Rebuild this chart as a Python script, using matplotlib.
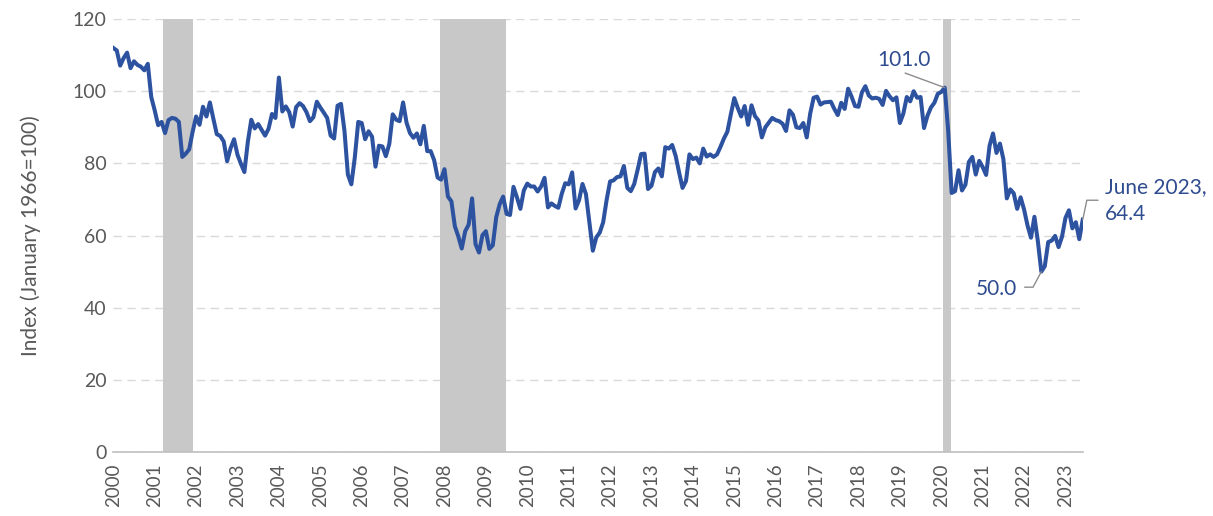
import numpy as np
import matplotlib.pyplot as plt

# monthly index values, Jan 2000 - Jun 2023
v2000 = [112.0, 111.3, 107.1, 109.2, 110.7, 106.4, 108.3, 107.3, 106.8, 105.8, 107.6, 98.4]
v2001 = [94.7, 90.6, 91.5, 88.4, 92.0, 92.6, 92.4, 91.5, 81.8, 82.7, 83.9, 88.8]
v2002 = [93.0, 90.7, 95.7, 93.0, 96.9, 92.4, 88.1, 87.6, 86.1, 80.6, 84.2, 86.7]
v2003 = [82.4, 79.9, 77.6, 86.0, 92.1, 89.7, 90.9, 89.3, 87.7, 89.6, 93.7, 92.6]
v2004 = [103.8, 94.4, 95.8, 94.2, 90.2, 95.6, 96.7, 95.9, 94.2, 91.7, 92.8, 97.1]
v2005 = [95.5, 94.1, 92.6, 87.7, 86.9, 96.0, 96.5, 89.1, 76.9, 74.2, 81.6, 91.5]
v2006 = [91.2, 86.7, 88.9, 87.4, 79.1, 84.9, 84.7, 82.0, 85.4, 93.6, 92.1, 91.7]
v2007 = [96.9, 91.3, 88.4, 87.1, 88.3, 85.3, 90.4, 83.4, 83.4, 80.9, 76.1, 75.5]
v2008 = [78.4, 70.8, 69.5, 62.6, 59.8, 56.4, 61.2, 63.0, 70.3, 57.6, 55.3, 60.1]
v2009 = [61.2, 56.3, 57.3, 65.1, 68.7, 70.8, 66.0, 65.7, 73.5, 70.6, 67.4, 72.5]
v2010 = [74.4, 73.6, 73.6, 72.2, 73.6, 76.0, 67.8, 68.9, 68.2, 67.7, 71.6, 74.5]
v2011 = [74.2, 77.5, 67.5, 69.8, 74.3, 71.5, 63.7, 55.8, 59.5, 60.8, 63.7, 69.9]
v2012 = [75.0, 75.3, 76.2, 76.4, 79.3, 73.2, 72.3, 74.3, 78.3, 82.6, 82.7, 72.9]
v2013 = [73.8, 77.6, 78.6, 76.4, 84.5, 84.1, 85.1, 82.1, 77.5, 73.2, 75.1, 82.5]
v2014 = [81.2, 81.6, 80.0, 84.1, 81.9, 82.5, 81.8, 82.5, 84.6, 86.9, 88.8, 93.6]
v2015 = [98.1, 95.4, 93.0, 95.9, 90.7, 96.1, 93.1, 91.9, 87.2, 90.0, 91.3, 92.6]
v2016 = [92.0, 91.7, 91.0, 89.0, 94.7, 93.5, 90.0, 89.8, 91.2, 87.2, 93.8, 98.2]
v2017 = [98.5, 96.3, 96.9, 97.0, 97.1, 95.1, 93.4, 96.8, 95.1, 100.7, 98.5, 95.9]
v2018 = [95.7, 99.7, 101.4, 98.8, 98.0, 98.2, 97.9, 96.2, 100.1, 98.6, 97.5, 98.3]
v2019 = [91.2, 93.8, 98.4, 97.2, 100.0, 98.2, 98.4, 89.8, 93.2, 95.5, 96.8, 99.3]
v2020 = [99.8, 101.0, 89.1, 71.8, 72.3, 78.1, 72.5, 74.1, 80.4, 81.8, 76.9, 80.7]
v2021 = [79.0, 76.8, 84.9, 88.3, 82.9, 85.5, 81.2, 70.3, 72.8, 71.7, 67.4, 70.6]
v2022 = [67.2, 62.8, 59.4, 65.2, 58.4, 50.0, 51.5, 58.2, 58.6, 59.9, 56.8, 59.7]
v2023 = [64.9, 67.0, 62.0, 63.7, 59.0, 64.4]

years = list(range(2000, 2024))
values = np.array(v2000 + v2001 + v2002 + v2003 + v2004 + v2005 + v2006 + v2007
                  + v2008 + v2009 + v2010 + v2011 + v2012 + v2013 + v2014 + v2015
                  + v2016 + v2017 + v2018 + v2019 + v2020 + v2021 + v2022 + v2023)
months = np.arange(len(values))

# recession bands (month index from Jan 2000)
rec_start = [14.5, 94.8, 240.4]
rec_end = [23.0, 113.8, 242.7]

# labelled points
peak_idx = 241      # Feb 2020
low_idx = 269       # Jun 2022
last_idx = len(values) - 1

line_color = '#2c52a0'
text_blue = '#2e4c8f'
gray_text = '#595959'

plt.rcParams['font.family'] = ['Lato', 'DejaVu Sans']

fig = plt.figure(figsize=(12.13, 5.16), dpi=100)
ax = fig.add_axes([0.0934, 0.124, 0.7992, 0.839])

for s, e in zip(rec_start, rec_end):
    ax.axvspan(s, e, color='#c8c8c8', lw=0, zorder=1)

ax.plot(months, values, color=line_color, lw=2.9, solid_joinstyle='round', zorder=3)

ax.set_xlim(0, last_idx)
ax.set_ylim(0, 120)
ax.set_yticks(range(0, 121, 20))
ax.set_xticks([12 * k for k in range(len(years))])
ax.set_xticklabels([str(y) for y in years], rotation=90)

ax.yaxis.grid(True, color='#d9d9d9', lw=1, linestyle=(0, (6, 4)))
ax.set_axisbelow(True)
for side in ['top', 'right', 'left']:
    ax.spines[side].set_visible(False)
ax.spines['bottom'].set_color('#bfbfbf')
ax.spines['bottom'].set_linewidth(1.2)
ax.spines['bottom'].set_zorder(4)
ax.tick_params(axis='both', length=0, colors=gray_text)
ax.tick_params(axis='x', labelsize=13.5, pad=8)
ax.tick_params(axis='y', labelsize=14, pad=5)

ax.set_ylabel('Index (January 1966=100)', fontsize=15, color=gray_text)
ax.yaxis.set_label_coords(-0.075, 0.5)

# annotations
lead = dict(arrowstyle='-', color='#8c8c8c', lw=1, shrinkA=0, shrinkB=0)
ax.annotate('', xy=(peak_idx, values[peak_idx]), xytext=(-28.5, 10.5),
            textcoords='offset points', arrowprops=lead)
ax.annotate('101.0', xy=(peak_idx, values[peak_idx]), xytext=(-29.5, 20),
            textcoords='offset points', ha='center', va='center',
            fontsize=15, color=text_blue)

ax.annotate('', xy=(low_idx, values[low_idx]), xytext=(-12, -11.2),
            textcoords='offset points',
            arrowprops=dict(lead, connectionstyle='angle,angleA=0,angleB=62,rad=0'))
ax.annotate('50.0', xy=(low_idx, values[low_idx]), xytext=(-32, -12.2),
            textcoords='offset points', ha='center', va='center',
            fontsize=15, color=text_blue)

ax.annotate('', xy=(last_idx, values[last_idx]), xytext=(11, 14),
            textcoords='offset points',
            arrowprops=dict(lead, connectionstyle='angle,angleA=0,angleB=78,rad=0'),
            annotation_clip=False)
ax.annotate('June 2023,\n64.4', xy=(last_idx, values[last_idx]), xytext=(16, 14),
            textcoords='offset points', ha='left', va='center', linespacing=1.45,
            fontsize=15, color=text_blue, annotation_clip=False)

fig.savefig('out.png', dpi=100)
